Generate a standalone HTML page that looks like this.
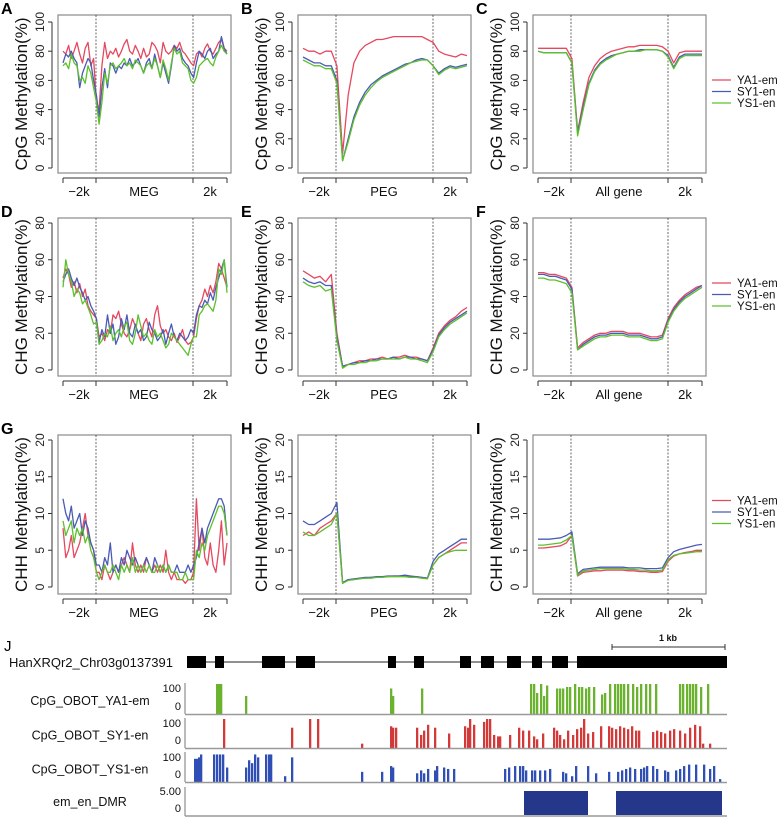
<!DOCTYPE html>
<html><head><meta charset="utf-8">
<style>
html,body{margin:0;padding:0;background:#fff;}
svg{display:block;font-family:"Liberation Sans",Arial,sans-serif;}
</style></head>
<body>
<svg id="fig" width="780" height="817" viewBox="0 0 780 817" xmlns="http://www.w3.org/2000/svg"></svg>
<script>
// ---- Line panel data ----
const seriesNames = ["YA1-em","SY1-en","YS1-en"];
const regionLabels = ["MEG","PEG","All gene"];
const yTicksCpG = [0,20,40,60,80,100];
const yTicksCHG = [0,20,40,60,80];
const yTicksCHH = [0,5,10,15,20];

const A_red = [80,78,84,75,80,86,78,72,82,86,70,75,45,40,70,86,75,80,78,82,76,80,85,88,80,78,84,80,75,82,76,78,86,84,80,72,86,80,78,80,84,82,86,80,78,75,72,70,78,80,76,82,85,80,78,82,86,88,82,80];
const A_blue = [72,78,76,80,75,72,55,65,70,75,72,60,50,35,55,68,55,72,70,65,70,68,72,70,75,70,72,75,70,65,72,75,68,78,70,62,72,65,58,70,84,80,82,75,72,70,65,62,72,80,78,75,80,82,75,78,80,90,82,78];
const A_green = [70,72,68,78,72,70,60,62,58,70,65,55,45,30,45,65,58,70,72,68,70,72,75,70,72,68,74,72,70,65,70,72,68,75,70,62,74,68,60,72,82,78,80,72,70,68,60,58,62,70,72,74,75,72,70,76,80,84,80,78];

const B_red = [82,80,80,78,80,80,70,10,50,72,80,84,86,88,88,89,90,90,90,90,90,90,88,86,80,78,77,76,78,77];
const B_blue = [76,74,72,72,70,70,60,5,20,35,45,52,57,60,63,65,67,69,71,72,74,75,74,70,65,68,70,69,70,71];
const B_green = [74,72,70,70,68,68,58,5,18,33,43,50,55,59,62,64,66,68,70,72,73,74,74,70,64,67,69,68,69,70];

const C_red = [82,82,82,82,82,82,75,25,45,62,70,75,78,80,81,82,83,83,84,84,84,84,83,80,72,79,80,80,80,80];
const C_blue = [80,79,79,79,79,79,72,24,42,58,67,72,75,77,78,79,80,80,81,81,81,81,80,77,69,76,78,78,78,78];
const C_green = [80,79,79,79,79,79,72,22,40,57,66,71,74,76,78,79,80,80,80,81,81,81,80,76,68,75,77,77,77,77];

const D_red = [50,55,52,45,48,42,47,40,44,35,32,30,28,18,20,16,22,20,30,28,32,25,20,18,22,28,24,20,16,25,28,22,18,30,35,24,20,22,18,16,20,15,18,22,16,14,15,18,28,35,38,44,40,46,42,48,58,55,50,45];
const D_blue = [48,52,55,50,46,50,45,42,38,40,35,32,28,15,22,18,30,20,25,14,18,28,22,30,20,18,25,20,22,16,18,26,22,20,16,18,22,14,20,25,18,16,20,18,16,18,22,20,30,35,34,38,36,42,38,45,50,55,60,45];
const D_green = [45,60,52,48,40,44,42,36,38,34,30,25,26,14,16,20,18,24,16,20,22,18,24,26,16,14,20,30,24,18,20,16,14,22,18,20,16,12,14,20,18,16,14,12,10,8,14,18,18,30,32,35,36,34,32,38,55,52,60,42];

const E_red = [54,52,50,51,48,52,20,2,3,4,5,5,6,6,7,6,7,7,8,7,7,6,5,12,20,24,27,29,32,34];
const E_blue = [50,48,47,48,46,46,18,2,3,4,4,5,5,6,6,6,7,6,7,7,6,6,5,11,19,23,26,28,30,32];
const E_green = [48,46,45,46,43,44,16,1,3,3,4,4,5,5,6,6,6,6,7,6,6,5,4,10,18,22,25,27,29,31];

const F_red = [53,53,52,52,51,50,45,12,15,17,19,20,20,21,21,21,20,20,20,19,18,18,19,28,34,38,41,43,45,46];
const F_blue = [52,52,51,51,50,49,44,11,14,16,18,19,19,20,20,20,19,19,19,18,17,17,18,27,33,37,40,42,44,46];
const F_green = [50,50,49,49,48,47,42,11,13,15,17,18,18,19,19,19,18,18,18,17,16,16,17,26,32,36,39,41,43,45];

const G_red = [8,4,5,7,4,5,6,8,10,7,6,5,2,2,1,3,2,1,2,3,2,3,4,3,2,6,3,2,3,2,4,3,2,3,2,3,2,5,2,1,2,1,1,1,0.5,1,1,2,12,5,8,4,3,6,3,2,5,9,3,6];
const G_blue = [12,10,9,11,8,9,10,7,9,8,6,5,3,3,2,4,3,6,2,3,2,4,3,5,4,3,4,3,2,3,4,3,2,4,3,2,3,2,3,2,2,3,2,2,2,3,2,3,4,6,8,6,8,9,10,11,12,12,11,7];
const G_green = [9,7,8,9,6,8,7,8,6,7,5,4,2,1,2,3,2,2,3,2,1,3,2,3,2,4,2,3,2,3,2,3,2,2,3,2,3,2,3,2,2,2,1,1,2,1,1,1,5,4,6,5,7,8,9,10,11,11,10,7];

const H_red = [7,7.5,7,8,8.5,9,10,0.5,1,1,1.2,1.2,1.3,1.3,1.4,1.4,1.5,1.5,1.5,1.4,1.4,1.3,1.2,3,4,4.5,5,5.5,6,6];
const H_blue = [9,8.5,8.5,9,9.5,10,11.5,0.6,1,1.1,1.2,1.3,1.3,1.4,1.4,1.5,1.5,1.5,1.6,1.5,1.4,1.3,1.2,3.5,4.5,5,5.5,6,6.5,6.5];
const H_green = [7.5,7,7,7.5,8,8.5,10,0.5,0.9,1,1.1,1.2,1.2,1.3,1.3,1.4,1.4,1.4,1.4,1.3,1.3,1.2,1.1,3,4,4.5,4.8,5,5,5];

const I_red = [5.3,5.3,5.4,5.5,5.6,6,7,1.5,2,2.1,2.2,2.2,2.3,2.3,2.3,2.3,2.2,2.2,2.1,2.1,2,2,2.1,3.5,4.2,4.5,4.7,4.8,5,5];
const I_blue = [6.5,6.5,6.5,6.6,6.7,7,7.5,1.8,2.4,2.5,2.6,2.7,2.7,2.7,2.7,2.7,2.6,2.6,2.6,2.5,2.5,2.5,2.6,4,4.8,5.1,5.3,5.5,5.7,5.8];
const I_green = [5.7,5.7,5.8,5.9,6,6.4,7,1.6,2.2,2.3,2.4,2.5,2.5,2.5,2.5,2.5,2.4,2.4,2.3,2.3,2.2,2.2,2.3,3.7,4.3,4.5,4.6,4.7,4.8,4.8];

// ---- Browser track data (position in bp, value %) ----
const exonsBp = [[0,190],[280,370],[750,980],[1090,1280],[2010,2090],[2270,2370],[2730,2840],[2940,3070],[3200,3340],[3450,3550],[3650,3810],[3900,5400]];
const trackYA1pos = [290,310,330,580,2030,2050,2340,3430,3460,3490,3530,3560,3590,3690,3720,3750,3790,3820,3870,3910,3940,3980,4010,4060,4140,4170,4220,4270,4300,4330,4360,4400,4450,4490,4530,4580,4620,4680,4920,4950,4990,5020,5050,5080,5130,5200];
const trackYA1val = [100,100,100,60,85,60,85,100,100,70,100,60,95,85,85,85,90,90,100,90,90,85,90,90,65,70,100,100,100,100,100,100,100,90,100,100,100,100,100,100,100,100,100,100,90,100];
const trackSY1pos = [360,1040,1220,1300,1740,2030,2050,2080,2290,2330,2360,2400,2470,2610,2770,2800,2820,2860,2960,2990,3020,3060,3100,3120,3220,3310,3350,3410,3460,3490,3550,3660,3690,3720,3760,3800,3850,3890,3930,3960,4000,4050,4130,4210,4240,4280,4320,4360,4400,4440,4480,4510,4650,4690,4730,4770,4820,4860,4920,4970,5020,5070,5120,5150,5220];
const trackSY1val = [100,70,100,100,15,75,70,70,70,45,60,80,70,50,75,70,100,80,90,100,100,45,40,40,45,70,60,60,40,30,50,70,60,45,30,60,45,65,70,100,50,55,75,75,70,65,75,70,65,75,60,60,55,60,55,50,60,65,60,50,70,80,75,15,15];
const trackYS1pos = [70,90,110,130,260,290,320,350,390,580,610,640,670,700,780,810,830,970,1040,1740,1940,2030,2050,2290,2330,2360,2400,2470,2490,2560,2600,2660,3170,3210,3270,3320,3350,3380,3440,3470,3520,3570,3620,3750,3780,3840,3880,4000,4080,4210,4300,4340,4380,4420,4470,4530,4560,4590,4650,4690,4770,4800,4880,4920,4960,5010,5080,5160,5220,5260,5320];
const trackYS1val = [80,80,85,95,95,95,95,95,50,50,75,65,95,85,95,95,95,20,85,35,35,55,50,30,40,30,45,40,55,50,45,45,45,50,55,55,55,40,40,40,40,40,45,35,30,20,55,55,30,35,35,40,45,50,45,45,50,55,55,45,40,35,40,45,55,60,60,60,45,55,10];
const dmrBp = [[3370,4010],[4290,5350]];
const dmrVal = [5,5];
const geneLengthBp = 5400;

// ---- helpers ----
const svg = document.getElementById('fig');
const NS = "http://www.w3.org/2000/svg";
function mk(tag, attrs, parent){
  const e = document.createElementNS(NS, tag);
  for (const k in attrs) e.setAttribute(k, attrs[k]);
  (parent||svg).appendChild(e);
  return e;
}
function txt(s, attrs, parent){ const e = mk('text', attrs, parent); e.textContent = s; return e; }

const COLORS = ["#e5485f","#4a5bb5","#5cc02c"];

const cols = [58, 298, 533];
const rows = [{top:15,bot:173,t0:168,t1:22},{top:218,bot:376,t0:370,t1:223},{top:435,bot:594,t0:587,t1:440}];
const rowMeta = [
  {ticks:yTicksCpG, max:100, title:"CpG Methylation(%)"},
  {ticks:yTicksCHG, max:80, title:"CHG Methylation(%)"},
  {ticks:yTicksCHH, max:20, title:"CHH Methylation(%)"}
];
const panels = [
  ["A",A_red,A_blue,A_green],["B",B_red,B_blue,B_green],["C",C_red,C_blue,C_green],
  ["D",D_red,D_blue,D_green],["E",E_red,E_blue,E_green],["F",F_red,F_blue,F_green],
  ["G",G_red,G_blue,G_green],["H",H_red,H_blue,H_green],["I",I_red,I_blue,I_green]
];
const W = 173;

panels.forEach((p, idx) => {
  const r = Math.floor(idx/3), c = idx%3;
  const L = cols[c], R = L + W, rw = rows[r], meta = rowMeta[r];
  const g = mk('g', {});
  
  
  const yS = v => rw.t0 + (rw.t1 - rw.t0) * v / meta.max;
  const x0 = L + 5, x1 = L + 169;
  const box = mk('rect', {x:L, y:rw.top, width:W, height:rw.bot-rw.top, fill:'none', stroke:'#8a8a8a', 'stroke-width':1.2}, g);
  
  
  [L+38, L+135].forEach(x => {
    const d = mk('line', {x1:x, x2:x, y1:rw.top, y2:rw.bot, stroke:'#444', 'stroke-width':0.8, 'stroke-dasharray':'2,1.5'}, g);
    
    
  });
  const ax = L - 6;
  mk('line', {x1:ax, x2:ax, y1:yS(0), y2:yS(meta.max), stroke:'#333', 'stroke-width':1}, g);
  meta.ticks.forEach(t => {
    const y = yS(t);
    mk('line', {x1:ax-4, x2:ax, y1:y, y2:y, stroke:'#333', 'stroke-width':1}, g);
    const tl = txt(String(t), {x:ax-8, y:y, 'font-size':12, 'text-anchor':'middle', fill:'#222', transform:`rotate(-90 ${ax-8} ${y})`, dy:0}, g);
    
    
  });
  const tx = L - 31, ty = (rw.top + rw.bot)/2;
  const yt = txt(meta.title, {x:tx, y:ty, 'font-size':17, 'text-anchor':'middle', fill:'#111', transform:`rotate(-90 ${tx} ${ty})`}, g);
  
  
  const xa = rw.bot + 5;
  mk('line', {x1:x0, x2:x1, y1:xa, y2:xa, stroke:'#333', 'stroke-width':1}, g);
  [x0, L+38, L+135, x1].forEach(x => mk('line', {x1:x, x2:x, y1:xa, y2:xa+5, stroke:'#333', 'stroke-width':1}, g));
  const ly = xa + 18;
  const xl1 = txt('\u22122k', {x:L+21, y:ly, 'font-size':13, 'text-anchor':'middle', fill:'#111'}, g);
  
  
  const xl2 = txt(regionLabels[c], {x:L+86, y:ly, 'font-size':13, 'text-anchor':'middle', fill:'#111'}, g);
  
  
  const xl3 = txt('2k', {x:L+152, y:ly, 'font-size':13, 'text-anchor':'middle', fill:'#111'}, g);
  
  
  const lt = txt(p[0], {x:L-57, y:rw.top-1, 'font-size':16, 'font-weight':'bold', fill:'#000'}, g);
  
  
  [1,2,3].forEach(si => {
    const data = p[si];
    const n = data.length;
    const pts = data.map((v,i) => (x0 + (x1-x0)*i/(n-1)).toFixed(1) + ',' + yS(v).toFixed(1)).join(' ');
    const pl = mk('polyline', {points:pts, fill:'none', stroke:COLORS[si-1], 'stroke-width':1.3, 'stroke-linejoin':'round'}, g);
    
    
  });
  if (c === 2) {
    const ly0 = (rw.top + rw.bot)/2 - 14;
    seriesNames.forEach((nm, k) => {
      const y = ly0 + k*11.5;
      const lg = mk('g', {}, g);
      
      
      mk('line', {x1:712, x2:731, y1:y, y2:y, stroke:COLORS[k], 'stroke-width':1.3}, lg);
      txt(nm, {x:737, y:y+4, 'font-size':11.5, fill:'#111'}, lg);
    });
  }
});

// ---- Panel J: genome browser ----
const GX0 = 187, GX1 = 727;
const bx = bp => GX0 + (GX1 - GX0) * bp / geneLengthBp;
const J = mk('g', {});


const jl = txt('J', {x:4, y:651, 'font-size':15, fill:'#000'}, J);


const sb = mk('g', {}, J);


mk('line', {x1:612, x2:725, y1:647, y2:647, stroke:'#333', 'stroke-width':1}, sb);
mk('line', {x1:612, x2:612, y1:644, y2:650, stroke:'#333'}, sb);
mk('line', {x1:725, x2:725, y1:644, y2:650, stroke:'#333'}, sb);
txt('1 kb', {x:668, y:641, 'font-size':9, 'font-weight':'bold', 'text-anchor':'middle', fill:'#111'}, sb);
const gn = txt('HanXRQr2_Chr03g0137391', {x:173, y:667, 'font-size':13, 'text-anchor':'end', fill:'#111'}, J);


mk('line', {x1:GX0, x2:GX1, y1:662, y2:662, stroke:'#222', 'stroke-width':1}, J);
exonsBp.forEach(e => {
  const ex = mk('rect', {x:bx(e[0]), y:656, width:bx(e[1])-bx(e[0]), height:12, fill:'#000'}, J);
  
  
});
const tracks = [
  {name:'CpG_OBOT_YA1-em', pos:trackYA1pos, val:trackYA1val, color:'#6bb22e', base:714, top:688, max:100, topLabel:'100'},
  {name:'CpG_OBOT_SY1-en', pos:trackSY1pos, val:trackSY1val, color:'#d23a3a', base:748, top:723, max:100, topLabel:'100'},
  {name:'CpG_OBOT_YS1-en', pos:trackYS1pos, val:trackYS1val, color:'#2f4fb5', base:782, top:757, max:100, topLabel:'100'}
];
tracks.forEach(t => {
  const tg = mk('g', {}, J);
  
  
  txt(t.name, {x:90, y:(t.top+t.base)/2+4, 'font-size':12.5, 'text-anchor':'middle', fill:'#111'}, tg);
  txt(t.topLabel, {x:181, y:t.top+4, 'font-size':11, 'text-anchor':'end', fill:'#111'}, tg);
  txt('0', {x:181, y:t.base-4, 'font-size':11, 'text-anchor':'end', fill:'#111'}, tg);
  mk('line', {x1:185, x2:185, y1:t.top-5, y2:t.base, stroke:'#555', 'stroke-width':0.8}, tg);
  const hPx = (t.base - t.top) + 4;
  t.pos.forEach((p, i) => {
    const h = hPx * t.val[i] / t.max;
    const b = mk('rect', {x:bx(p), y:t.base-h, width:2.3, height:h, fill:t.color}, tg);
    
    
  });
  mk('line', {x1:185, x2:GX1, y1:t.base+0.5, y2:t.base+0.5, stroke:'#999', 'stroke-width':1.5}, tg);
});
const dg = mk('g', {}, J);


txt('em_en_DMR', {x:90, y:806, 'font-size':12.5, 'text-anchor':'middle', fill:'#111'}, dg);
txt('5.00', {x:181, y:795, 'font-size':11, 'text-anchor':'end', fill:'#111'}, dg);
txt('0', {x:181, y:812, 'font-size':11, 'text-anchor':'end', fill:'#111'}, dg);
mk('line', {x1:185, x2:185, y1:787, y2:816, stroke:'#555', 'stroke-width':0.8}, dg);
dmrBp.forEach((d, i) => {
  const h = 24 * dmrVal[i] / 5;
  const r = mk('rect', {x:bx(d[0]), y:815-h, width:bx(d[1])-bx(d[0]), height:h, fill:'#25378a'}, dg);
  
  
});
mk('line', {x1:185, x2:GX1, y1:816, y2:816, stroke:'#999', 'stroke-width':1.5}, dg);
</script>
</body></html>
